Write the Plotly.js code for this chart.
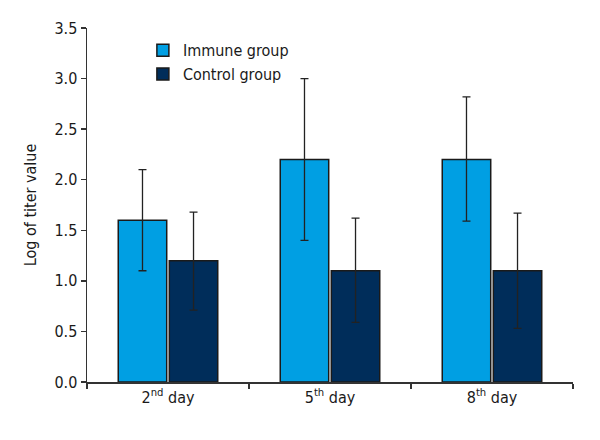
<!DOCTYPE html>
<html>
<head>
<meta charset="utf-8">
<script src="https://cdn.plot.ly/plotly-3.0.1.min.js"></script>
<style>html,body{margin:0;padding:0;background:#fff;}#chart{width:600px;height:440px;}</style>
</head>
<body>
<div id="chart"></div>
<script>
const categories = ["2<sup>nd</sup> day", "5<sup>th</sup> day", "8<sup>th</sup> day"];
const immuneValues = [1.6, 2.2, 2.2];
const immuneErrPlus = [0.5, 0.8, 0.62];
const immuneErrMinus = [0.5, 0.8, 0.61];
const controlValues = [1.2, 1.1, 1.1];
const controlErrPlus = [0.48, 0.52, 0.57];
const controlErrMinus = [0.49, 0.51, 0.57];
const yTickVals = [0, 0.5, 1, 1.5, 2, 2.5, 3, 3.5];
const yTickText = ["0.0", "0.5", "1.0", "1.5", "2.0", "2.5", "3.0", "3.5"];

const FONT = "'Liberation Sans Narrow', 'DejaVu Sans Condensed', 'Roboto', sans-serif";
const errStyle = {color: '#222', thickness: 1.3, width: 4};

const traces = [
  {
    type: 'bar', name: 'Immune group', x: categories, y: immuneValues,
    marker: {color: '#009FE3', line: {color: '#1a1a1a', width: 1.5}},
    error_y: Object.assign({type: 'data', symmetric: false, array: immuneErrPlus, arrayminus: immuneErrMinus}, errStyle)
  },
  {
    type: 'bar', name: 'Control group', x: categories, y: controlValues,
    marker: {color: '#002D5A', line: {color: '#1a1a1a', width: 1.5}},
    error_y: Object.assign({type: 'data', symmetric: false, array: controlErrPlus, arrayminus: controlErrMinus}, errStyle)
  }
];

const layout = {
  width: 600, height: 440,
  margin: {l: 87, r: 27, t: 28, b: 58},
  paper_bgcolor: '#fff', plot_bgcolor: '#fff',
  font: {family: FONT, size: 16, color: '#1a1a1a'},
  barmode: 'group', bargap: 0.37, bargroupgap: 0.05,
  showlegend: true,
  legend: {x: 0.115, y: 0.985, xanchor: 'left', yanchor: 'top', bgcolor: 'rgba(0,0,0,0)',
           font: {family: FONT, size: 16, color: '#1a1a1a'}, itemwidth: 30, tracegroupgap: 0},
  xaxis: {
    type: 'category', showline: true, linecolor: '#333', linewidth: 1.5,
    ticks: 'outside', tickson: 'boundaries', ticklen: 5, tickcolor: '#333', tickwidth: 1.3,
    showgrid: false, zeroline: false, fixedrange: true,
    tickfont: {family: FONT, size: 16}
  },
  yaxis: {
    range: [0, 3.5], tickvals: yTickVals, ticktext: yTickText,
    showline: true, linecolor: '#333', linewidth: 1.5,
    ticks: 'outside', ticklen: 5, tickcolor: '#333', tickwidth: 1.3,
    showgrid: false, zeroline: false,
    tickfont: {family: FONT, size: 16},
    title: {text: 'Log of titer value', font: {family: FONT, size: 16}, standoff: 14}
  }
};

Plotly.newPlot('chart', traces, layout, {displayModeBar: false, staticPlot: true});
</script>
</body>
</html>
